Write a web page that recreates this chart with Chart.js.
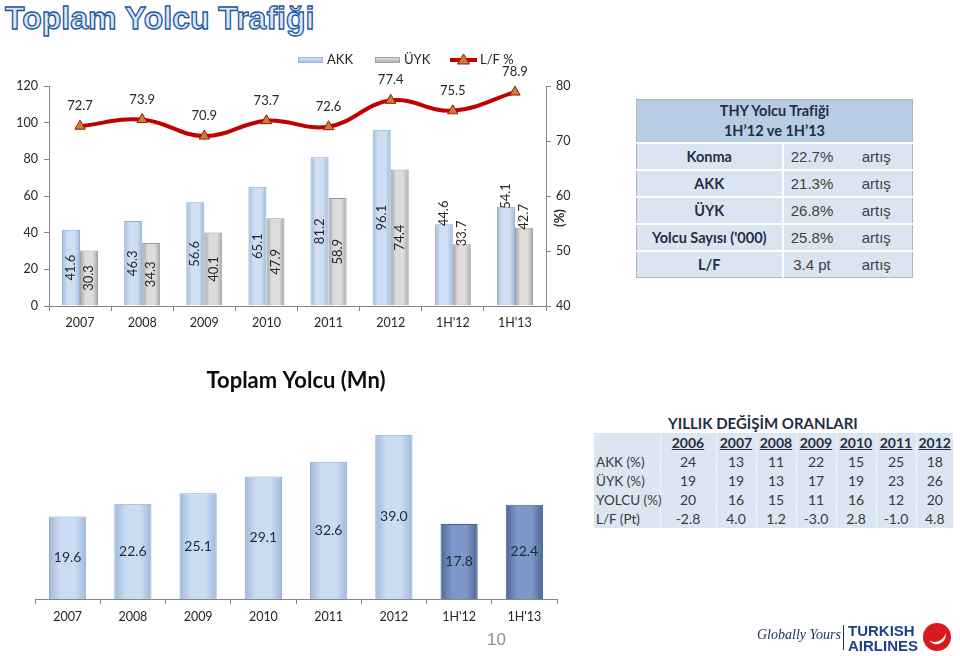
<!DOCTYPE html>
<html lang="tr">
<head>
    <meta charset="UTF-8">
    <title>Toplam Yolcu Trafiği</title>
    <script src="https://cdn.jsdelivr.net/npm/chart.js"></script>
    <style>
        html, body {
            margin: 0;
            padding: 0;
            background: #fff;
        }

        body {
            width: 960px;
            height: 656px;
            position: relative;
            overflow: hidden;
            font-family: Lato, "Open Sans", sans-serif;
            color: #262626;
        }

        .abs { position: absolute; }

        #pageTitle {
            left: 5px;
            top: 0;
            line-height: 36px;
            font: bold 32px "Liberation Sans", Arial, sans-serif;
            color: #d6e8fa;
            -webkit-text-stroke: 1.3px #1f5599;
            white-space: nowrap;
        }

        #thyTable {
            left: 636px;
            top: 99px;
            width: 277px;
            border-collapse: collapse;
            table-layout: fixed;
            border: 1px solid #b3b3b3;
        }
        #thyTable th {
            background: #b8cce4;
            height: 42px;
            padding: 0;
            font: bold 14.5px Lato, sans-serif;
            line-height: 20px;
            color: #1f2f44;
        }
        #thyTable td {
            background: #dbe5f1;
            height: 25px;
            padding: 0;
            border-top: 2px solid #fff;
            text-align: center;
        }
        #thyTable td.lbl {
            border-right: 2px solid #fff;
            font: bold 14.5px Lato, sans-serif;
            color: #1f2f44;
            white-space: nowrap;
        }
        #thyTable td.val, #thyTable td.note {
            font: 15px "Liberation Sans", Arial, sans-serif;
            color: #404040;
        }

        #changeTitle {
            left: 668px;
            top: 414px;
            font: bold 15px Lato, sans-serif;
            color: #1f2f44;
            white-space: nowrap;
        }
        #changeTable {
            left: 594px;
            top: 433px;
            width: 359px;
            border-collapse: collapse;
            table-layout: fixed;
            background: #dce6f2;
            font: 14px Lato, sans-serif;
            color: #3a3a3a;
        }
        #changeTable td, #changeTable th {
            height: 19px;
            padding: 0;
            text-align: center;
            border-left: 1px dotted #fff;
            white-space: nowrap;
        }
        #changeTable th {
            font-weight: bold;
            text-decoration: underline;
            color: #1f2f44;
        }
        #changeTable td.rowName {
            text-align: left;
            padding-left: 2px;
            border-left: none;
            font-size: 13.5px;
        }

        #pageNo {
            left: 487px;
            top: 630px;
            font: 17px "Liberation Sans", Arial, sans-serif;
            color: #8e8e8e;
        }

        #slogan {
            left: 757px;
            top: 627px;
            font: italic 14px "Liberation Serif", serif;
            color: #1b2f5e;
            white-space: nowrap;
        }
        #logoSep {
            left: 843px;
            top: 625px;
            width: 1px;
            height: 25px;
            background: #1b2f5e;
        }
        #brand {
            left: 848px;
            top: 623px;
            font: bold 15px "Liberation Sans", Arial, sans-serif;
            line-height: 15px;
            color: #1f3f8f;
            white-space: nowrap;
        }
        #brandMark {
            left: 923px;
            top: 623px;
            width: 28px;
            height: 28px;
            border-radius: 50%;
            background: #d71920;
            overflow: hidden;
        }
        #brandMark::after {
            content: "";
            position: absolute;
            left: 6px;
            top: 9px;
            width: 18px;
            height: 9px;
            border-radius: 0 0 12px 12px;
            border-bottom: 3px solid #fff;
            transform: rotate(-25deg);
        }
    </style>
</head>
<body>
    <div id="pageTitle" class="abs">Toplam Yolcu Trafiği</div>

    <div class="abs" style="left:0; top:40px; width:600px; height:300px;">
        <canvas id="trafficChart" width="600" height="300"></canvas>
    </div>

    <table id="thyTable" class="abs">
        <colgroup><col style="width:146px"><col style="width:58px"><col></colgroup>
        <thead><tr><th colspan="3">THY Yolcu Trafiği<br>1H’12 ve 1H’13</th></tr></thead>
        <tbody id="thyBody"></tbody>
    </table>

    <div class="abs" style="left:0; top:360px; width:590px; height:280px;">
        <canvas id="passengerChart" width="590" height="280"></canvas>
    </div>

    <div id="changeTitle" class="abs">YILLIK DEĞİŞİM ORANLARI</div>
    <table id="changeTable" class="abs">
        <colgroup>
            <col style="width:66px"><col style="width:56px">
            <col style="width:40px"><col style="width:40px"><col style="width:40px">
            <col style="width:40px"><col style="width:40px"><col style="width:37px">
        </colgroup>
        <tbody id="changeBody"></tbody>
    </table>

    <div id="pageNo" class="abs">10</div>
    <div id="slogan" class="abs">Globally Yours</div>
    <div id="logoSep" class="abs"></div>
    <div id="brand" class="abs">TURKISH<br>AIRLINES</div>
    <div id="brandMark" class="abs"></div>

    <script>
        // chart data
        const categories = ['2007', '2008', '2009', '2010', '2011', '2012', "1H'12", "1H'13"];
        const akkValues = [41.6, 46.3, 56.6, 65.1, 81.2, 96.1, 44.6, 54.1];
        const uykValues = [30.3, 34.3, 40.1, 47.9, 58.9, 74.4, 33.7, 42.7];
        const loadFactor = [72.7, 73.9, 70.9, 73.7, 72.6, 77.4, 75.5, 78.9];
        const totalPassengers = [19.6, 22.6, 25.1, 29.1, 32.6, 39.0, 17.8, 22.4];

        // THY table
        const thyRows = ['Konma', 'AKK', 'ÜYK', "Yolcu Sayısı ('000)", 'L/F'];
        const thyChange = ['22.7%', '21.3%', '26.8%', '25.8%', '3.4 pt'];
        const thyNote = 'artış';

        // yearly change table
        const changeYears = ['2006', '2007', '2008', '2009', '2010', '2011', '2012'];
        const changeAkk = ['24', '13', '11', '22', '15', '25', '18'];
        const changeUyk = ['19', '19', '13', '17', '19', '23', '26'];
        const changeYolcu = ['20', '16', '15', '11', '16', '12', '20'];
        const changeLf = ['-2.8', '4.0', '1.2', '-3.0', '2.8', '-1.0', '4.8'];

        const axisGrey = '#868686';
        const isHalfYear = i => categories[i].startsWith('1H');

        // soft 3d look for the bars: darker edges, lighter middle
        function bevel(edge, mid) {
            return c => {
                const el = c.element;
                if (!el || !isFinite(el.x) || !el.width) return mid;
                const g = c.chart.ctx.createLinearGradient(el.x - el.width / 2, 0, el.x + el.width / 2, 0);
                g.addColorStop(0, edge);
                g.addColorStop(0.3, mid);
                g.addColorStop(0.7, mid);
                g.addColorStop(1, edge);
                return g;
            };
        }

        // value labels drawn on top of the marks
        const valueLabels = {
            id: 'valueLabels',
            afterDatasetsDraw(chart, args, o) {
                const ctx = chart.ctx;
                ctx.save();
                ctx.fillStyle = o.color || '#262626';
                ctx.font = o.font;
                chart.data.datasets.forEach((ds, di) => {
                    const meta = chart.getDatasetMeta(di);
                    meta.data.forEach((el, i) => {
                        const txt = ds.data[i].toFixed(1);
                        if (meta.type === 'line') {
                            ctx.textAlign = 'center';
                            ctx.textBaseline = 'middle';
                            ctx.fillText(txt, el.x, el.y - 20);
                        } else if (o.rotate) {
                            ctx.save();
                            ctx.textBaseline = 'middle';
                            if (isHalfYear(i)) {
                                ctx.translate(el.x, el.y + 2);
                                ctx.textAlign = 'left';
                            } else {
                                ctx.translate(el.x, (el.y + el.base) / 2);
                                ctx.textAlign = 'center';
                            }
                            ctx.rotate(-Math.PI / 2);
                            ctx.fillText(txt, 0, 0);
                            ctx.restore();
                        } else {
                            ctx.textAlign = 'center';
                            ctx.textBaseline = 'middle';
                            ctx.fillText(txt, el.x, (el.y + el.base) / 2);
                        }
                    });
                });
                ctx.restore();
            }
        };

        // legend strip above the first chart + the (%) note on the right axis
        const topLegend = {
            id: 'topLegend',
            afterDraw(chart, args, o) {
                const ctx = chart.ctx;
                const y = o.y;
                ctx.save();
                ctx.font = o.font;
                ctx.textBaseline = 'middle';
                ctx.textAlign = 'left';
                o.items.forEach(it => {
                    if (it.kind === 'box') {
                        const g = ctx.createLinearGradient(0, y - 3, 0, y + 3);
                        g.addColorStop(0, it.mid);
                        g.addColorStop(1, it.edge);
                        ctx.fillStyle = g;
                        ctx.fillRect(it.x, y - 3, 25, 6);
                        ctx.strokeStyle = it.edge;
                        ctx.lineWidth = 1;
                        ctx.strokeRect(it.x + 0.5, y - 2.5, 24, 5);
                        ctx.fillStyle = '#262626';
                        ctx.fillText(it.text, it.x + 29, y);
                    } else {
                        ctx.strokeStyle = '#c00000';
                        ctx.lineWidth = 4;
                        ctx.beginPath();
                        ctx.moveTo(it.x, y);
                        ctx.lineTo(it.x + 27, y);
                        ctx.stroke();
                        ctx.beginPath();
                        ctx.moveTo(it.x + 13.5, y - 6);
                        ctx.lineTo(it.x + 19.5, y + 4);
                        ctx.lineTo(it.x + 7.5, y + 4);
                        ctx.closePath();
                        ctx.fillStyle = '#b5893a';
                        ctx.fill();
                        ctx.lineWidth = 1;
                        ctx.stroke();
                        ctx.fillStyle = '#262626';
                        ctx.fillText(it.text, it.x + 30, y);
                    }
                });
                // right axis note
                const y1 = chart.scales.y1;
                ctx.save();
                ctx.font = 'bold 13px Lato, sans-serif';
                ctx.fillStyle = '#262626';
                ctx.textAlign = 'center';
                ctx.translate(chart.chartArea.right + 14, y1.getPixelForValue(56));
                ctx.rotate(-Math.PI / 2);
                ctx.fillText('(%)', 0, 0);
                ctx.restore();
                ctx.restore();
            }
        };

        const tickFont = { family: 'Lato, sans-serif', size: 12.5 };

        const trafficChart = new Chart(document.getElementById('trafficChart'), {
            type: 'bar',
            data: {
                labels: categories,
                datasets: [
                    {
                        type: 'line',
                        label: 'L/F %',
                        data: loadFactor,
                        yAxisID: 'y1',
                        order: 0,
                        borderColor: '#c00000',
                        borderWidth: 4,
                        tension: 0.4,
                        pointStyle: 'triangle',
                        pointRadius: 6,
                        pointBackgroundColor: '#b5893a',
                        pointBorderColor: '#c00000',
                        pointBorderWidth: 1
                    },
                    {
                        label: 'AKK',
                        data: akkValues,
                        yAxisID: 'y',
                        order: 1,
                        backgroundColor: bevel('#9db8dd', '#cfdff3'),
                        borderColor: '#8fa9cc',
                        borderWidth: 1
                    },
                    {
                        label: 'ÜYK',
                        data: uykValues,
                        yAxisID: 'y',
                        order: 1,
                        backgroundColor: bevel('#a3a3a3', '#dcdcdc'),
                        borderColor: '#999999',
                        borderWidth: 1
                    }
                ]
            },
            options: {
                responsive: false,
                animation: false,
                events: [],
                layout: { padding: { top: 46 } },
                datasets: { bar: { categoryPercentage: 0.58, barPercentage: 1 } },
                plugins: {
                    legend: { display: false },
                    tooltip: { enabled: false },
                    valueLabels: { rotate: true, font: '13px Lato, sans-serif', color: '#262626' },
                    topLegend: {
                        y: 20,
                        font: '13px Lato, sans-serif',
                        items: [
                            { kind: 'box', text: 'AKK', x: 298, edge: '#9db8dd', mid: '#e3ecf8' },
                            { kind: 'box', text: 'ÜYK', x: 375, edge: '#a3a3a3', mid: '#ececec' },
                            { kind: 'line', text: 'L/F %', x: 450 }
                        ]
                    }
                },
                scales: {
                    x: {
                        grid: { drawOnChartArea: false, tickLength: 5, color: axisGrey },
                        border: { color: axisGrey },
                        ticks: { font: tickFont, color: '#262626', padding: 4 },
                        afterFit: s => { s.height = 34; }
                    },
                    y: {
                        position: 'left',
                        min: 0,
                        max: 120,
                        ticks: { stepSize: 20, font: tickFont, color: '#262626', padding: 6 },
                        grid: { drawOnChartArea: false, tickLength: 5, color: axisGrey },
                        border: { color: axisGrey },
                        afterFit: s => { s.width = 49; }
                    },
                    y1: {
                        position: 'right',
                        min: 40,
                        max: 80,
                        ticks: { stepSize: 10, font: tickFont, color: '#262626', padding: 5 },
                        grid: { drawOnChartArea: false, tickLength: 5, color: axisGrey },
                        border: { color: axisGrey },
                        afterFit: s => { s.width = 54; }
                    }
                }
            },
            plugins: [valueLabels, topLegend]
        });
        trafficChart.update();

        const lightBar = bevel('#9db8dd', '#cbdcf2');
        const darkBar = bevel('#4d6896', '#7c97c8');

        const passengerChart = new Chart(document.getElementById('passengerChart'), {
            type: 'bar',
            data: {
                labels: categories,
                datasets: [{
                    label: 'Toplam Yolcu (Mn)',
                    data: totalPassengers,
                    backgroundColor: c => (isHalfYear(c.dataIndex) ? darkBar(c) : lightBar(c)),
                    borderColor: c => (isHalfYear(c.dataIndex) ? '#4a6390' : '#8fa9cc'),
                    borderWidth: 1,
                    categoryPercentage: 0.57,
                    barPercentage: 1
                }]
            },
            options: {
                responsive: false,
                animation: false,
                events: [],
                layout: { padding: { left: 35, right: 33 } },
                plugins: {
                    legend: { display: false },
                    tooltip: { enabled: false },
                    title: {
                        display: true,
                        text: 'Toplam Yolcu (Mn)',
                        font: { family: 'Lato, sans-serif', size: 22, weight: 'bold', lineHeight: 1.2 },
                        color: '#0d0d0d',
                        padding: { top: 8, bottom: 6.6 }
                    },
                    valueLabels: { rotate: false, font: '14px Lato, sans-serif', color: '#1f2a3a' }
                },
                scales: {
                    x: {
                        grid: { drawOnChartArea: false, tickLength: 5, color: axisGrey },
                        border: { color: axisGrey },
                        ticks: { font: tickFont, color: '#262626', padding: 5 },
                        afterFit: s => { s.height = 41; }
                    },
                    y: { display: false, min: 0, max: 47 }
                }
            },
            plugins: [valueLabels]
        });
        passengerChart.update();

        // fill the tables
        const thyBody = document.getElementById('thyBody');
        thyRows.forEach((name, i) => {
            const tr = document.createElement('tr');
            tr.innerHTML = '<td class="lbl">' + name + '</td><td class="val">' + thyChange[i] +
                '</td><td class="note">' + thyNote + '</td>';
            thyBody.appendChild(tr);
        });

        const changeBody = document.getElementById('changeBody');
        const head = document.createElement('tr');
        head.innerHTML = '<td class="rowName"></td>' + changeYears.map(y => '<th>' + y + '</th>').join('');
        changeBody.appendChild(head);
        [['AKK (%)', changeAkk], ['ÜYK (%)', changeUyk], ['YOLCU (%)', changeYolcu], ['L/F (Pt)', changeLf]]
            .forEach(([name, vals]) => {
                const tr = document.createElement('tr');
                tr.innerHTML = '<td class="rowName">' + name + '</td>' + vals.map(v => '<td>' + v + '</td>').join('');
                changeBody.appendChild(tr);
            });
    </script>
</body>
</html>
